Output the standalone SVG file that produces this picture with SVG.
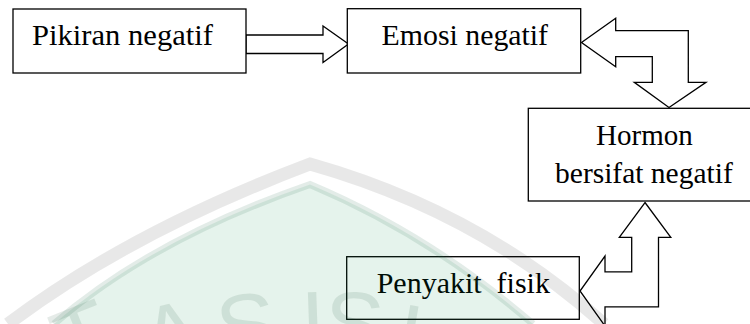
<svg xmlns="http://www.w3.org/2000/svg" width="750" height="324" viewBox="0 0 750 324">
  <style>
    .box { fill: #ffffff; stroke: #000000; stroke-width: 1.3; }
    .lbl { font-family: "Liberation Serif", "Times New Roman", Tinos, "DejaVu Serif", "Noto Serif", serif; font-size: 29.5px; fill: #000000; }
    .mid { text-anchor: middle; }
    .flow { fill: #ffffff; stroke: #000000; stroke-width: 1.3; stroke-linejoin: miter; }
    .ring { fill: none; stroke: #000000; stroke-opacity: 0.09; stroke-width: 13; stroke-linejoin: miter; }
    .field { fill: #008c46; fill-opacity: 0.1; }
    .rim { fill: none; stroke: #286e4b; stroke-opacity: 0.13; stroke-width: 7; stroke-linejoin: miter; }
    .mark { font-family: "Liberation Sans", Arial, sans-serif; font-size: 90px; fill: #003c1e; fill-opacity: 0.1; text-anchor: middle; }
  </style>

  <!-- block arrows -->
  <g id="connectors">
    <path id="pikiran-to-emosi" class="flow" d="M246,35 L323,35 L323,26 L348.5,44 L323,62.5 L323,53.5 L246,53.5 Z"/>
    <path id="emosi-hormon" class="flow" d="M581.5,42.5 L615.7,18.3 L615.7,30.7 L688.3,30.7 L688.3,82.3 L706,82.3 L669,107.5 L634.3,82.3 L652.3,82.3 L652.3,56.7 L615.7,56.7 L615.7,66.7 Z"/>
    <path id="hormon-penyakit" class="flow" d="M645,202.5 L670.8,237.3 L658.5,237.3 L658.5,306.8 L605,306.8 L605,326 L580,291 L605,256 L605,271.8 L631.7,271.8 L631.7,237.3 L619.3,237.3 Z"/>
  </g>

  <g id="pikiran">
    <rect class="box" x="13" y="9" width="233" height="64"/>
    <text class="lbl" font-family="Liberation Serif, Times New Roman, serif" x="32" y="45" textLength="181" lengthAdjust="spacingAndGlyphs">Pikiran negatif</text>
  </g>

  <g id="emosi">
    <rect class="box" x="347.3" y="8.7" width="233.4" height="64.3"/>
    <text class="lbl mid" font-family="Liberation Serif, Times New Roman, serif" x="464.8" y="45" textLength="166.5" lengthAdjust="spacingAndGlyphs">Emosi negatif</text>
  </g>

  <g id="hormon">
    <rect class="box" x="528.3" y="108.3" width="233" height="92.7"/>
    <text class="lbl mid" font-family="Liberation Serif, Times New Roman, serif" x="644.4" y="145" textLength="96.7" lengthAdjust="spacingAndGlyphs">Hormon</text>
    <text class="lbl mid" font-family="Liberation Serif, Times New Roman, serif" x="643.9" y="183" textLength="177.7" lengthAdjust="spacingAndGlyphs">bersifat negatif</text>
  </g>

  <g id="penyakit">
    <rect class="box" x="346.7" y="256.7" width="232.6" height="62.6"/>
    <text class="lbl mid" font-family="Liberation Serif, Times New Roman, serif" x="463.3" y="293.3" xml:space="preserve" textLength="173.3" lengthAdjust="spacingAndGlyphs">Penyakit  fisik</text>
  </g>

  <!-- faint seal printed over the page -->
  <g id="seal">
    <path class="ring" d="M8,324 Q130,232 310,164 Q480,212 604,324"/>
    <path class="field" d="M54,324 Q150,240 310,184.5 Q430,235 533,324 Z"/>
    <path class="rim" d="M54,324 Q150,240 310,184.5 Q430,235 533,324"/>
    <text class="mark" transform="translate(70,306) rotate(-22)" y="64">T</text>
    <text class="mark" transform="translate(164,303) rotate(-14)" y="64">A</text>
    <text class="mark" transform="translate(242,293) rotate(-8)" y="64">S</text>
    <text class="mark" transform="translate(312,290) rotate(-2)" y="64">I</text>
    <text class="mark" transform="translate(356,291) rotate(3)" y="64">S</text>
    <text class="mark" transform="translate(428,306) rotate(10)" y="64">L</text>
  </g>
</svg>
